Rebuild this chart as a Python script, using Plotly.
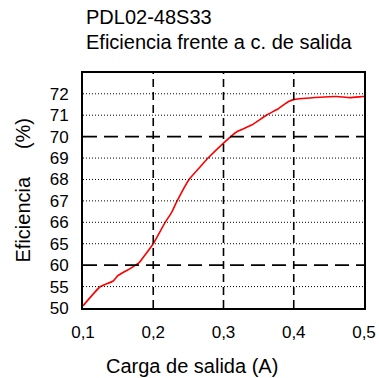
import numpy as np
import plotly.graph_objects as go

# Data
load_a = [0.100, 0.124, 0.143, 0.150, 0.167, 0.180, 0.188, 0.200, 0.217, 0.226,
          0.234, 0.251, 0.265, 0.278, 0.300, 0.319, 0.340, 0.361, 0.378,
          0.392, 0.401, 0.437, 0.461, 0.480, 0.499, 0.503]
efficiency = [50.5, 54.9, 56.3, 57.6, 59.2, 60.6, 62.3, 65.0, 66.0, 66.45,
              67.0, 68.0, 68.52, 69.0, 69.7, 70.23, 70.54, 71.0, 71.3,
              71.63, 71.74, 71.84, 71.87, 71.82, 71.87, 71.87]
y_tick_values = [50, 55, 60, 65, 66, 67, 68, 69, 70, 71, 72]
x_tick_values = [0.1, 0.2, 0.3, 0.4, 0.5]
x_tick_labels = ["0,1", "0,2", "0,3", "0,4", "0,5"]
dashed_y = [60, 70]
dashed_x = [0.2, 0.3, 0.4]

# non-linear axis: each labelled tick equally spaced
tick_idx = list(range(len(y_tick_values)))
def ymap(v):
    return np.interp(v, y_tick_values, tick_idx)

fig = go.Figure()
fig.add_trace(go.Scatter(x=load_a, y=ymap(efficiency), mode="lines",
                         line=dict(color="#ff0000", width=1.6, shape="spline", smoothing=0.4),
                         cliponaxis=False, hoverinfo="skip"))

shapes = []
for v in y_tick_values:
    if v in (50,):
        continue
    if v in dashed_y:
        shapes.append(dict(type="line", xref="paper", x0=0, x1=1, yref="y",
                           y0=ymap(v), y1=ymap(v),
                           line=dict(color="black", width=1.6, dash="14px,7px")))
    else:
        shapes.append(dict(type="line", xref="paper", x0=0, x1=1, yref="y",
                           y0=ymap(v), y1=ymap(v),
                           line=dict(color="black", width=1, dash="1px,2px")))
for xv in dashed_x:
    shapes.append(dict(type="line", xref="x", x0=xv, x1=xv, yref="paper", y0=0, y1=1,
                       line=dict(color="black", width=1.6, dash="8px,5px")))

font = "Liberation Sans, Arial, sans-serif"
L, R, T, B = 83, 15, 73, 70
fig.update_layout(
    width=379, height=378,
    margin=dict(l=L, r=R, t=T, b=B, autoexpand=False),
    paper_bgcolor="white", plot_bgcolor="white",
    showlegend=False,
    shapes=shapes,
    font=dict(family=font, color="black"),
    xaxis=dict(range=[0.1, 0.5], tickvals=x_tick_values, ticktext=x_tick_labels,
               showgrid=False, zeroline=False, showline=True, linecolor="black",
               linewidth=2, mirror=True, ticks="", ticklabelstandoff=8,
               automargin=False,
               tickfont=dict(size=17, family=font, color="black")),
    yaxis=dict(range=[0, 10.97], tickvals=tick_idx, ticktext=[str(v) for v in y_tick_values],
               showgrid=False, zeroline=False, showline=True, linecolor="black",
               linewidth=2, mirror=True, ticks="", ticklabelstandoff=9,
               automargin=False,
               tickfont=dict(size=17, family=font, color="black")),
    annotations=[
        dict(text="PDL02-48S33", xref="paper", yref="paper", x=0, y=1 + (T - 17) / 235,
             xanchor="left", yanchor="middle", showarrow=False, xshift=1,
             font=dict(size=20, family=font, color="black")),
        dict(text="Eficiencia frente a c. de salida", xref="paper", yref="paper",
             x=0, y=1 + (T - 42) / 235, xanchor="left", yanchor="middle",
             showarrow=False, xshift=1, font=dict(size=20, family=font, color="black")),
        dict(text="Carga de salida (A)", xref="paper", yref="paper",
             x=(192 - L) / 281, y=-(366 - 308) / 235, xanchor="center", yanchor="middle",
             showarrow=False, font=dict(size=20, family=font, color="black")),
        dict(text="Eficiencia\u00a0\u00a0\u00a0\u00a0\u00a0(%)", xref="paper", yref="paper",
             x=-(L - 22) / 281, y=0.5, xanchor="center", yanchor="middle", textangle=-90,
             showarrow=False, font=dict(size=20, family=font, color="black")),
    ],
)

fig.write_html("out.html", config={"displayModeBar": False, "staticPlot": True},
               post_script="document.body.style.margin='0';document.body.style.overflow='hidden';")
